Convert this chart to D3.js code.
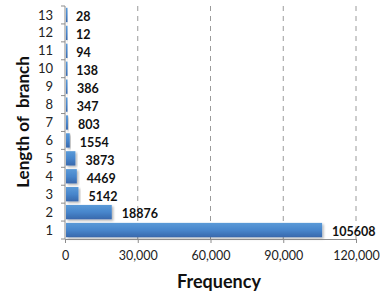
<!DOCTYPE html>
<html lang="en">
<head>
    <meta charset="UTF-8">
    <title>Length of branch</title>
    <script src="https://cdn.jsdelivr.net/npm/d3@7/dist/d3.min.js"></script>
    <style>
        html, body {
            margin: 0;
            padding: 0;
            background: #fff;
        }
        svg text {
            font-family: Lato, "Open Sans", sans-serif;
        }
    </style>
</head>
<body>
<div id="chart"></div>

<script>
    // branch lengths and how often they occur
    const lengths = [1, 2, 3, 4, 5, 6, 7, 8, 9, 10, 11, 12, 13];
    const counts = [105608, 18876, 5142, 4469, 3873, 1554, 803, 347, 386, 138, 94, 12, 28];
    const xTicks = [0, 30000, 60000, 90000, 120000];

    const width = 392, height = 296;
    const margin = {top: 6, right: 36, bottom: 57, left: 65};

    const svg = d3.select("#chart").append("svg")
        .attr("width", width)
        .attr("height", height);

    const defs = svg.append("defs");
    const grad = defs.append("linearGradient")
        .attr("id", "barGrad")
        .attr("x1", 0).attr("y1", 0).attr("x2", 0).attr("y2", 1);
    grad.append("stop").attr("offset", "0%").attr("stop-color", "#5a9ad8");
    grad.append("stop").attr("offset", "50%").attr("stop-color", "#4886cc");
    grad.append("stop").attr("offset", "100%").attr("stop-color", "#3868ac");

    const shadow = defs.append("filter").attr("id", "shadow")
        .attr("x", "-10%").attr("y", "-20%").attr("width", "130%").attr("height", "160%");
    shadow.append("feDropShadow")
        .attr("dx", 1.5).attr("dy", 1.5).attr("stdDeviation", 1)
        .attr("flood-color", "#000").attr("flood-opacity", 0.3);

    const x = d3.scaleLinear()
        .domain([0, 120000])
        .range([margin.left, width - margin.right]);

    const y = d3.scaleBand()
        .domain(lengths)
        .range([height - margin.bottom, margin.top])
        .paddingInner(0.2)
        .paddingOuter(0.1);

    // dashed grid
    svg.append("g")
        .selectAll("line")
        .data(xTicks.slice(1))
        .join("line")
        .attr("x1", d => x(d)).attr("x2", d => x(d))
        .attr("y1", margin.top).attr("y2", height - margin.bottom)
        .attr("stroke", "#9a9a9a")
        .attr("stroke-width", 1)
        .attr("stroke-dasharray", "5,5");

    // bars
    svg.append("g")
        .selectAll("rect")
        .data(lengths)
        .join("rect")
        .attr("x", x(0) + 1)
        .attr("y", d => y(d))
        .attr("height", y.bandwidth())
        .attr("width", (d, i) => Math.max(1.5, x(counts[i]) - x(0)))
        .attr("fill", "url(#barGrad)")
        .attr("filter", "url(#shadow)");

    // value labels
    svg.append("g")
        .selectAll("text")
        .data(lengths)
        .join("text")
        .attr("x", (d, i) => x(counts[i]) + 11)
        .attr("y", d => y(d) + y.bandwidth() / 2 + 2)
        .attr("dy", "0.35em")
        .attr("font-size", 12.5)
        .attr("font-weight", "bold")
        .attr("fill", "#111")
        .text((d, i) => counts[i]);

    // x axis
    const xAxis = svg.append("g")
        .attr("transform", `translate(0,${height - margin.bottom})`)
        .call(d3.axisBottom(x).tickValues(xTicks).tickFormat(d3.format(",")).tickSizeOuter(0).tickSize(4));
    xAxis.select(".domain").attr("stroke", "#8c8c8c");
    xAxis.selectAll(".tick line").attr("stroke", "#8c8c8c");
    xAxis.selectAll(".tick text")
        .attr("font-size", 12.5)
        .attr("fill", "#222")
        .attr("dy", "1.1em");

    // y axis: ticks sit on band edges
    const yAxis = svg.append("g")
        .attr("transform", `translate(${margin.left},0)`);
    yAxis.append("line")
        .attr("y1", margin.top).attr("y2", height - margin.bottom)
        .attr("stroke", "#8c8c8c");
    const bandH = (height - margin.bottom - margin.top) / lengths.length;
    yAxis.selectAll("line.tk")
        .data(d3.range(lengths.length + 1))
        .join("line")
        .attr("class", "tk")
        .attr("x1", -4).attr("x2", 0)
        .attr("y1", i => height - margin.bottom - i * bandH)
        .attr("y2", i => height - margin.bottom - i * bandH)
        .attr("stroke", "#8c8c8c");
    yAxis.selectAll("text")
        .data(lengths)
        .join("text")
        .attr("x", -12)
        .attr("y", d => y(d) + y.bandwidth() / 2)
        .attr("dy", "0.35em")
        .attr("text-anchor", "end")
        .attr("font-size", 13)
        .attr("fill", "#222")
        .text(d => d);

    // titles
    svg.append("text")
        .attr("x", 219)
        .attr("y", 288)
        .attr("text-anchor", "middle")
        .attr("font-size", 18)
        .attr("font-weight", "bold")
        .attr("fill", "#111")
        .text("Frequency");

    svg.append("text")
        .attr("transform", `translate(29,122) rotate(-90)`)
        .attr("text-anchor", "middle")
        .attr("font-size", 17)
        .attr("font-weight", "bold")
        .attr("fill", "#111")
        .style("white-space", "pre")
        .text("Length of  branch");
</script>
</body>
</html>
